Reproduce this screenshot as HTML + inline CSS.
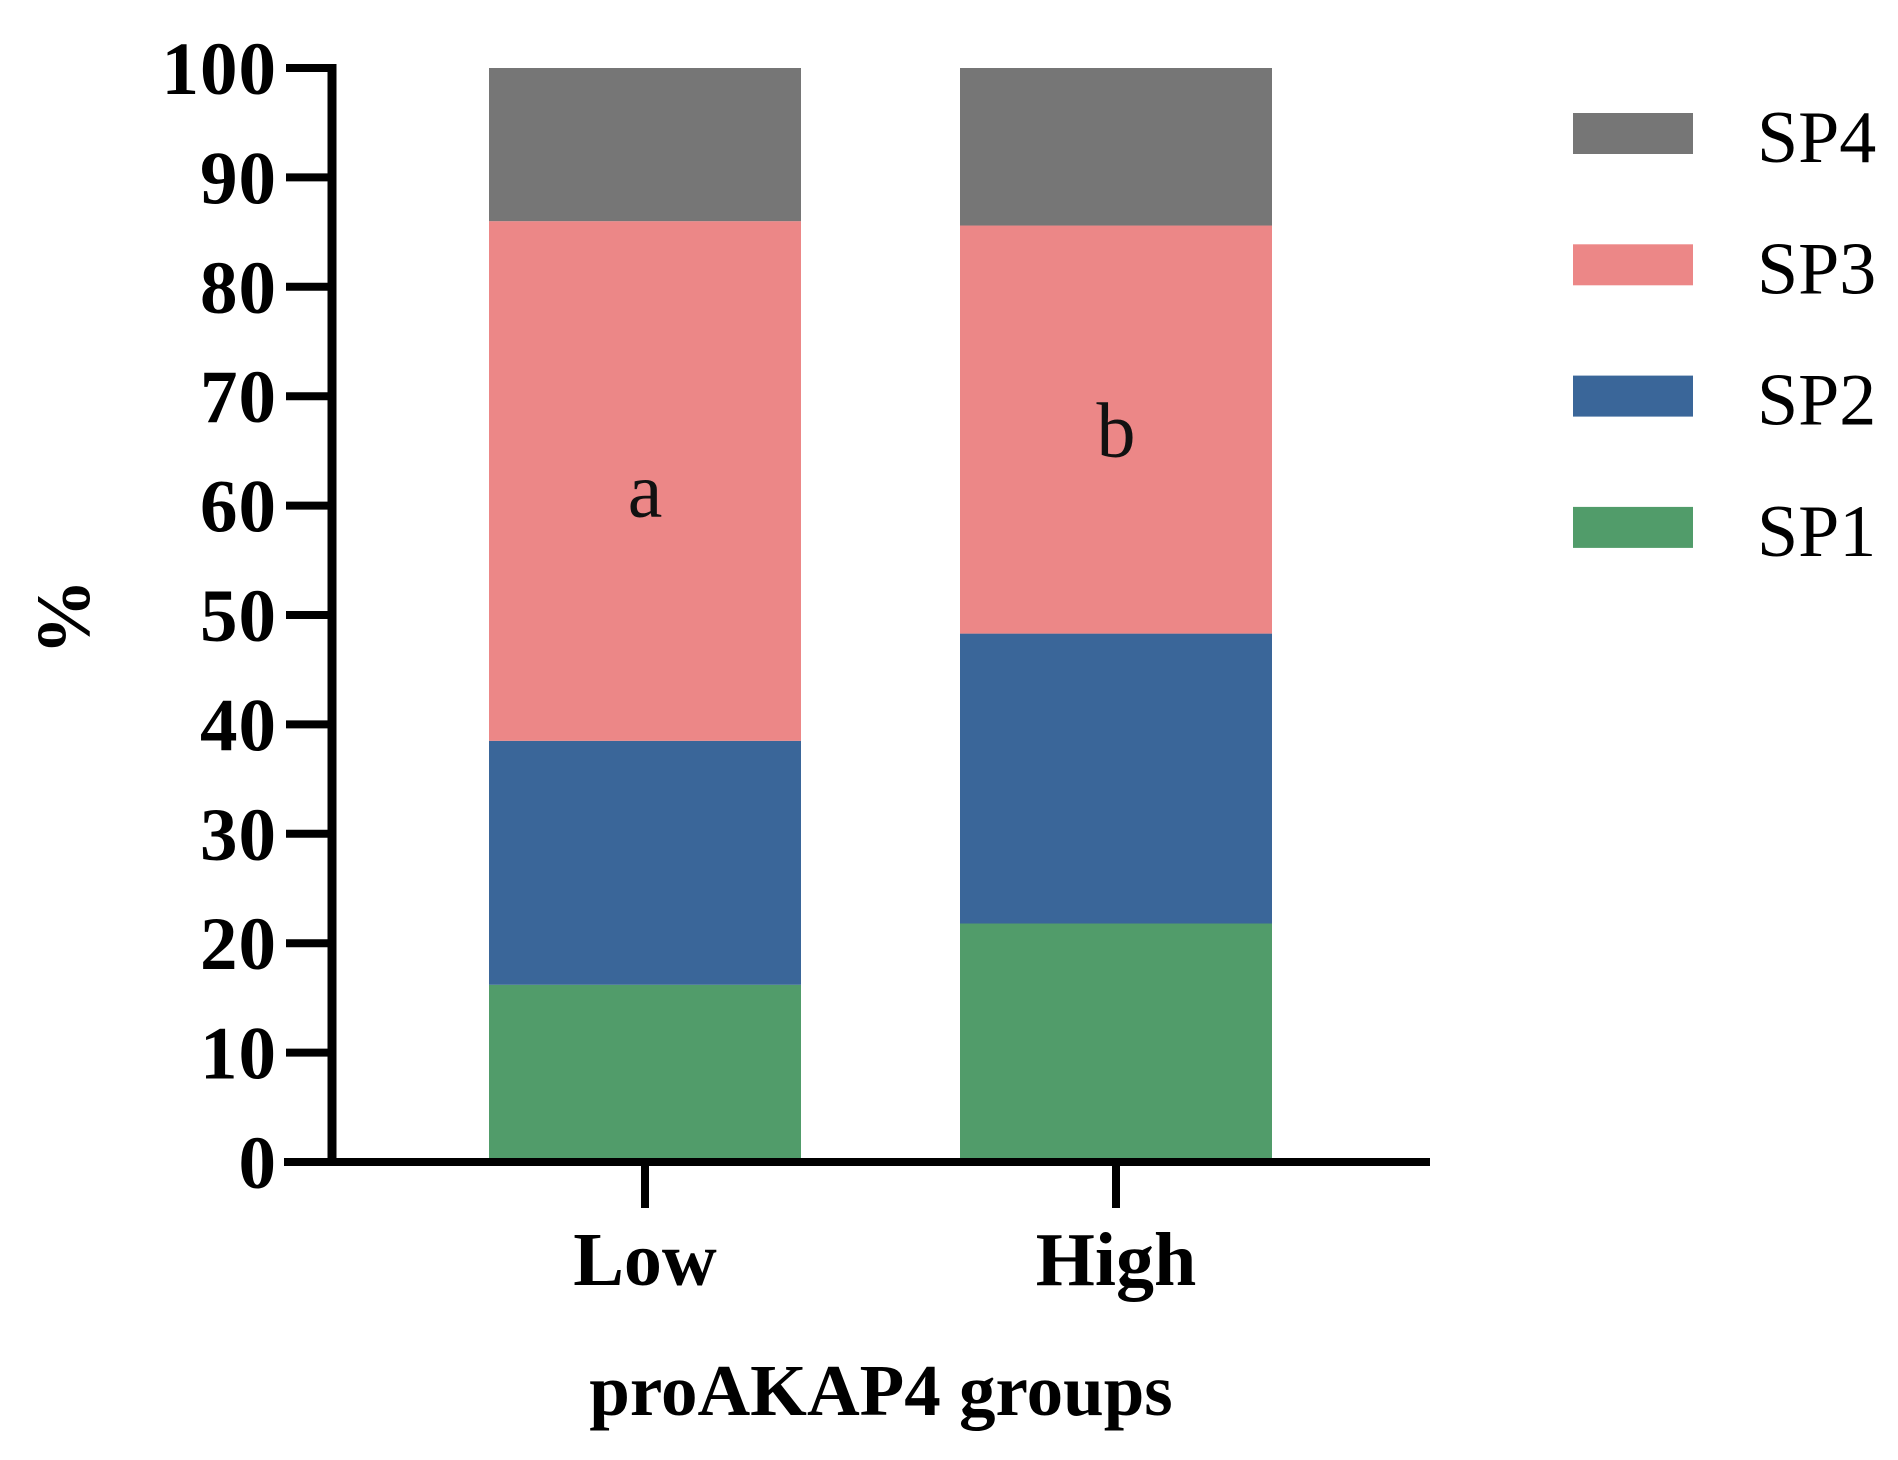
<!DOCTYPE html>
<html><head><meta charset="utf-8"><style>
html,body{margin:0;padding:0;background:#fff;}
svg{display:block;}
</style></head><body>
<svg id="chart" width="1898" height="1460" viewBox="0 0 1898 1460" xmlns="http://www.w3.org/2000/svg" font-family="'Liberation Serif', serif"></svg>
<script>
const categories = ["Low", "High"];
const seriesNames = ["SP1", "SP2", "SP3", "SP4"];
const sp1 = [16.2, 21.8];
const sp2 = [22.3, 26.5];
const sp3 = [47.5, 37.3];
const sp4 = [14.0, 14.4];
const yTicks = [0, 10, 20, 30, 40, 50, 60, 70, 80, 90, 100];
const barLetters = ["a", "b"];
const letterValues = [59, 64.5];

const colors = ["#519c6a", "#3a6699", "#ec8787", "#767676"];
const svg = document.getElementById('chart');
const NS = "http://www.w3.org/2000/svg";
const y0 = 1162, y100 = 68;
const yScale = v => y0 - (v / 100) * (y0 - y100);
const xCenters = [645, 1116];
const barW = 312;
const xScale = i => xCenters[i];

function mk(tag, attrs, text) {
  const e = document.createElementNS(NS, tag);
  for (const k in attrs) e.setAttribute(k, attrs[k]);
  if (text !== undefined) e.textContent = text;
  svg.appendChild(e);
  return e;
}

const series = [sp1, sp2, sp3, sp4];
categories.forEach((c, i) => {
  let acc = 0;
  series.forEach((s, j) => {
    const v = s[i];
    const r = mk('rect', {x: xScale(i) - barW / 2, y: yScale(acc + v), width: barW, height: yScale(acc) - yScale(acc + v), fill: colors[j]});
    
    
    acc += v;
  });
  const t = mk('text', {x: xScale(i), y: yScale(letterValues[i]), 'font-size': 78, 'text-anchor': 'middle', fill: '#111'}, barLetters[i]);
  
  
});

const ya = mk('line', {x1: 332, y1: y100 - 4, x2: 332, y2: y0 + 4, stroke: '#000', 'stroke-width': 9});


const xa = mk('line', {x1: 284, y1: y0, x2: 1430, y2: y0, stroke: '#000', 'stroke-width': 8});



yTicks.forEach(v => {
  const tk = mk('line', {x1: 286, y1: yScale(v), x2: 332, y2: yScale(v), stroke: '#000', 'stroke-width': 8});
  
  
  const lb = mk('text', {x: 277, y: yScale(v) + 26, 'font-size': 75, 'font-weight': 'bold', 'text-anchor': 'end', 'letter-spacing': 1}, String(v));
  
  
});

categories.forEach((c, i) => {
  const tk = mk('line', {x1: xScale(i), y1: y0, x2: xScale(i), y2: 1208, stroke: '#000', 'stroke-width': 8});
  
  
  const lb = mk('text', {x: xScale(i), y: 1285, 'font-size': 76, 'font-weight': 'bold', 'text-anchor': 'middle'}, c);
  
  
});

const xt = mk('text', {x: 881, y: 1415, 'font-size': 73, 'font-weight': 'bold', 'text-anchor': 'middle'}, 'proAKAP4 groups');


const yt = mk('text', {x: 0, y: 0, 'font-size': 76, 'font-weight': 'bold', 'text-anchor': 'middle', transform: 'translate(89,617) rotate(-90)'}, '%');



for (let k = 0; k < 4; k++) {
  const j = 3 - k;
  const top = 113 + k * 131.3;
  const sw = mk('rect', {x: 1573, y: top, width: 120, height: 41, fill: colors[j]});
  
  
  const lt = mk('text', {x: 1757, y: top + 49, 'font-size': 74}, seriesNames[j]);
  
  
}
</script>
</body></html>
